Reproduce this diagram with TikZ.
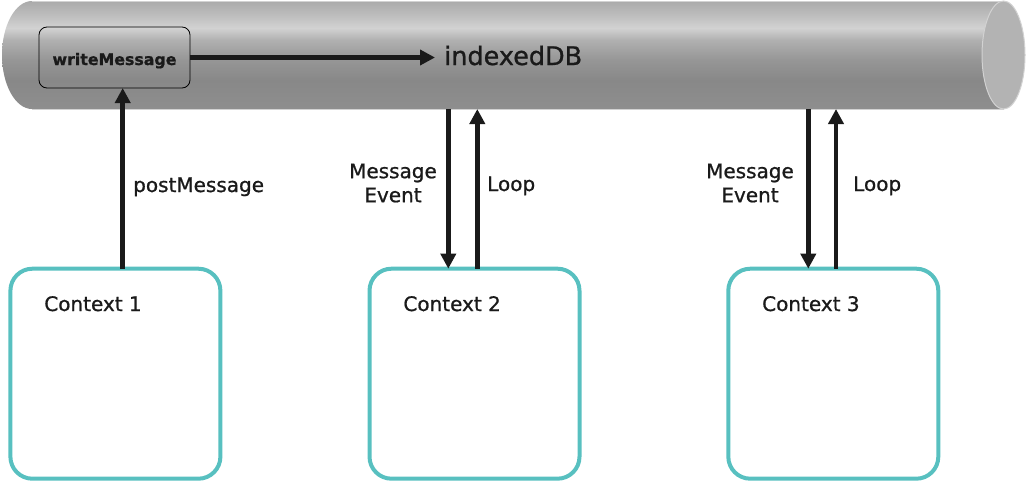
\documentclass[tikz,border=0pt]{standalone}
\usepackage{fontspec}
\setmainfont{DejaVu Sans}[RawFeature={embolden=0.9}]
\usetikzlibrary{arrows.meta,calc}
\definecolor{inkc}{HTML}{1A1A1A}
\definecolor{tealc}{HTML}{58C0C0}
\definecolor{capc}{HTML}{B3B3B3}
\definecolor{edgec}{HTML}{D2D2D2}
\definecolor{g1}{HTML}{AAAAAA}
\definecolor{g2}{HTML}{BDBDBD}
\definecolor{g3}{HTML}{D2D2D2}
\definecolor{g4}{HTML}{B0B0B0}
\definecolor{g5}{HTML}{969696}
\definecolor{g6}{HTML}{888888}
\definecolor{g7}{HTML}{8E8E8E}
\pgfdeclareverticalshading{cylshade}{100bp}{color(0bp)=(g7); color(25bp)=(g7); color(38.4bp)=(g6); color(47.7bp)=(g5); color(56.9bp)=(g4); color(62.5bp)=(g3); color(68.5bp)=(g2); color(75bp)=(g1); color(100bp)=(g1)}
\tikzset{
  arr/.style={draw=inkc, line width=4.6pt, -{Triangle[length=15pt,width=15pt]}},
  ctxbox/.style={draw=tealc, line width=4pt, rounded corners=22pt, minimum width=210pt, minimum height=210pt, outer sep=0pt, inner sep=0pt},
  ctxtext/.style={anchor=base west, inner sep=0pt, text=inkc, font=\fontsize{20}{24}\selectfont},
  lbl/.style={inner sep=0pt, text=inkc, font=\fontsize{20}{24}\selectfont},
  wmbox/.style={draw=black, line width=0.8pt, rounded corners=8pt, minimum width=151pt, minimum height=61pt, outer sep=0pt, text height=18pt, text depth=3pt, text=inkc, font=\fontsize{15.8}{18}\selectfont\bfseries},
}
\begin{document}
\begin{tikzpicture}[x=1pt,y=-1pt]
\useasboundingbox (0,0) rectangle (1027,482);
% cylinder body
\path[shading=cylshade, shading angle=0] (32,1) arc[start angle=90, end angle=270, x radius=30pt, y radius=54pt] -- (1004,109) -- (1004,1) -- cycle;
\draw[edgec, line width=1pt] (32,1) -- (1004,1);
\draw[edgec, line width=1pt] (32,109) -- (1004,109);
\draw[fill=capc, draw=edgec, line width=1pt] (1003.5,55) ellipse [x radius=21.5pt, y radius=54pt];
\coordinate (cylbot) at (0,109);
% nodes
\node[wmbox] (wm) at (114.5,57.5) {writeMessage};
\node[anchor=base west, inner sep=0pt, inner xsep=9pt, text=inkc, font=\fontsize{25.5}{30}\selectfont] (idx) at (435,65) {\hspace{0pt}indexedDB};
\node[ctxbox] (c1) at (115.4,373.7) {};
\node[ctxbox] (c2) at (474.5,373.7) {};
\node[ctxbox] (c3) at (833.3,373.7) {};
\node[ctxtext] (c1t) at ([xshift=33.7pt,yshift=-42.3pt]c1.north west) {Context 1};
\node[ctxtext] (c2t) at ([xshift=33.7pt,yshift=-42.3pt]c2.north west) {Context 2};
\node[ctxtext] (c3t) at ([xshift=33.7pt,yshift=-42.3pt]c3.north west) {Context 3};
% labels
\node[lbl, anchor=base west] (pm) at (133,192) {postMessage};
\node[lbl, anchor=north, align=center] (me2) at (393,163.4) {Message\\Event};
\node[lbl, anchor=base west] (lp2) at (487,191) {Loop};
\node[lbl, anchor=north, align=center] (me3) at (750,163.4) {Message\\Event};
\node[lbl, anchor=base west] (lp3) at (853,191) {Loop};
% connectors
\draw[arr] (wm.east) -- (wm.east -| idx.west);
\draw[arr] ([xshift=7.3pt]c1.north) -- ([xshift=7.3pt]c1.north |- wm.south);
\draw[arr] ([xshift=-26.2pt]c2.north |- cylbot) -- ([xshift=-26.2pt]c2.north);
\draw[arr] ([xshift=2.8pt]c2.north) -- ([xshift=2.8pt]c2.north |- cylbot);
\draw[arr] ([xshift=-25pt]c3.north |- cylbot) -- ([xshift=-25pt]c3.north);
\draw[arr] ([xshift=2.7pt]c3.north) -- ([xshift=2.7pt]c3.north |- cylbot);
\end{tikzpicture}
\end{document}
